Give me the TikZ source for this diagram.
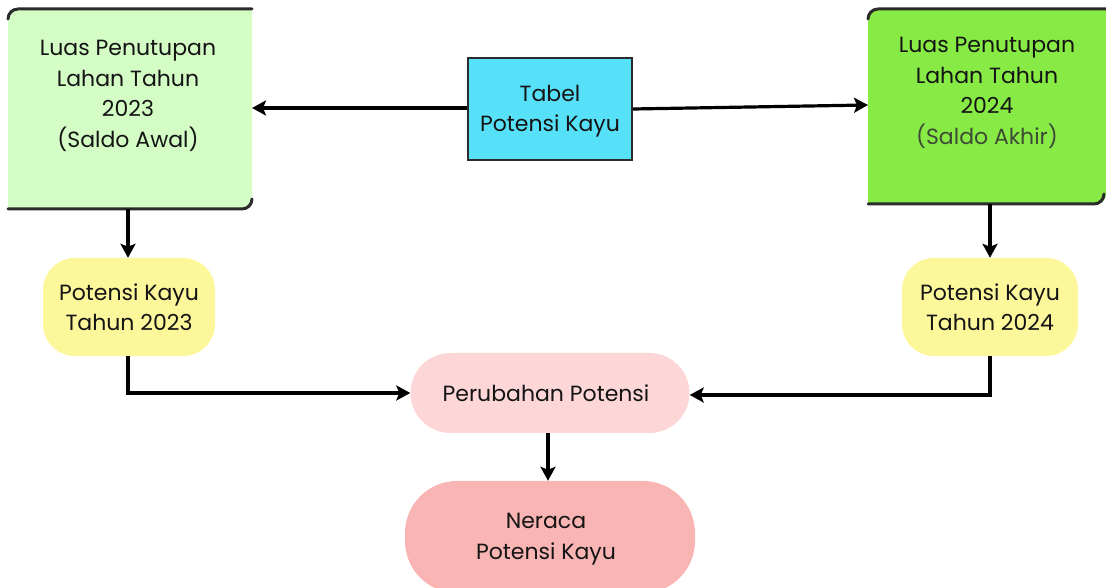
\documentclass[tikz,border=0pt]{standalone}
\usepackage{fontspec}
\setmainfont{Poppins}
\usetikzlibrary{arrows.meta,calc}
\definecolor{lgreen}{HTML}{D4FDC6}
\definecolor{dgreen}{HTML}{88EB45}
\definecolor{cyanbox}{HTML}{57E1F9}
\definecolor{yellowbox}{HTML}{FDF79B}
\definecolor{pinklight}{HTML}{FDD7D7}
\definecolor{pinkbox}{HTML}{F9B4B4}
\definecolor{edge}{HTML}{2B2B2B}
\definecolor{txt}{HTML}{141414}
\definecolor{subtxt}{HTML}{3D4A35}
\begin{document}
\begin{tikzpicture}[x=1pt,y=1pt,
  every node/.style={font=\fontsize{22}{30.5}\selectfont, text=txt, align=center, inner sep=0pt},
  pill/.style={rounded corners=#1, draw=none},
  conn/.style={line width=3.2pt, draw=black, -{Stealth[length=14pt,width=15pt,inset=3pt]}},
  rim/.style={line width=3pt, draw=edge, line cap=round}
]
\useasboundingbox (0,0) rectangle (1106,588);
\clip (0,0) rectangle (1106,588);

% land-cover boxes (only top and bottom edges are outlined)
\fill[lgreen] (8,379) -- (8,569) arc[start angle=180,end angle=90,radius=10] -- (252,579)
  -- (252,389) arc[start angle=0,end angle=-90,radius=10] -- cycle;
\draw[rim] (8,569) arc[start angle=180,end angle=90,radius=10] -- (252,579);
\draw[rim] (8,379) -- (242,379) arc[start angle=-90,end angle=0,radius=10];
\node (lb) at (128,492) {Luas Penutupan\\Lahan Tahun\\2023\\(Saldo Awal)};
\coordinate (lbE) at (252,480);
\coordinate (lbS) at (128,379);

\fill[dgreen] (868,384) -- (868,569) arc[start angle=180,end angle=90,radius=10] -- (1110,579)
  -- (1110,394) -- (1106,394) arc[start angle=0,end angle=-90,radius=10] -- cycle;
\draw[rim] (868,569) arc[start angle=180,end angle=90,radius=10] -- (1112,579);
\draw[rim] (868,384) -- (1094,384) arc[start angle=-90,end angle=0,radius=10];
\node (rb) at (987,495) {Luas Penutupan\\Lahan Tahun\\2024\\{\color{subtxt}(Saldo Akhir)}};
\coordinate (rbW) at (868,483);
\coordinate (rbS) at (990,384);

% central table
\node[draw=edge, line width=2.4pt, fill=cyanbox, minimum width=164pt, minimum height=102pt] (tab) at (550,479) {};
\node (tabt) at (550,477) {Tabel\\Potensi Kayu};

% yearly potentials
\node[fill=yellowbox, pill=32pt, minimum width=172pt, minimum height=98pt] (p23) at (129,281) {Potensi Kayu\\Tahun 2023};
\node[fill=yellowbox, pill=32pt, minimum width=176pt, minimum height=98pt] (p24) at (990,281) {Potensi Kayu\\Tahun 2024};

% change and balance
\node[fill=pinklight, pill=40pt, minimum width=279pt, minimum height=80pt] (chg) at (550,195) {};
\node (chgt) at (546,195) {Perubahan Potensi};
\node[fill=pinkbox, pill=52pt, minimum width=290pt, minimum height=112pt] (bal) at (550,51) {};
\node (balt) at (546,49) {Neraca\\Potensi Kayu};

% connectors
\draw[conn] ($(tab.west)+(0,1)$) -- (lbE);
\draw[conn] (tab.east) -- (rbW);
\draw[conn] (lbS) -- (p23.north -| lbS);
\draw[conn] (rbS) -- (p24.north -| rbS);
\draw[conn] (p23.south -| lbS) |- (chg.west);
\draw[conn] (p24.south -| rbS) |- ($(chg.east)+(0,-2)$);
\draw[conn] ($(chg.south)+(-2,0)$) -- ($(bal.north)+(-2,0)$);
\end{tikzpicture}
\end{document}
